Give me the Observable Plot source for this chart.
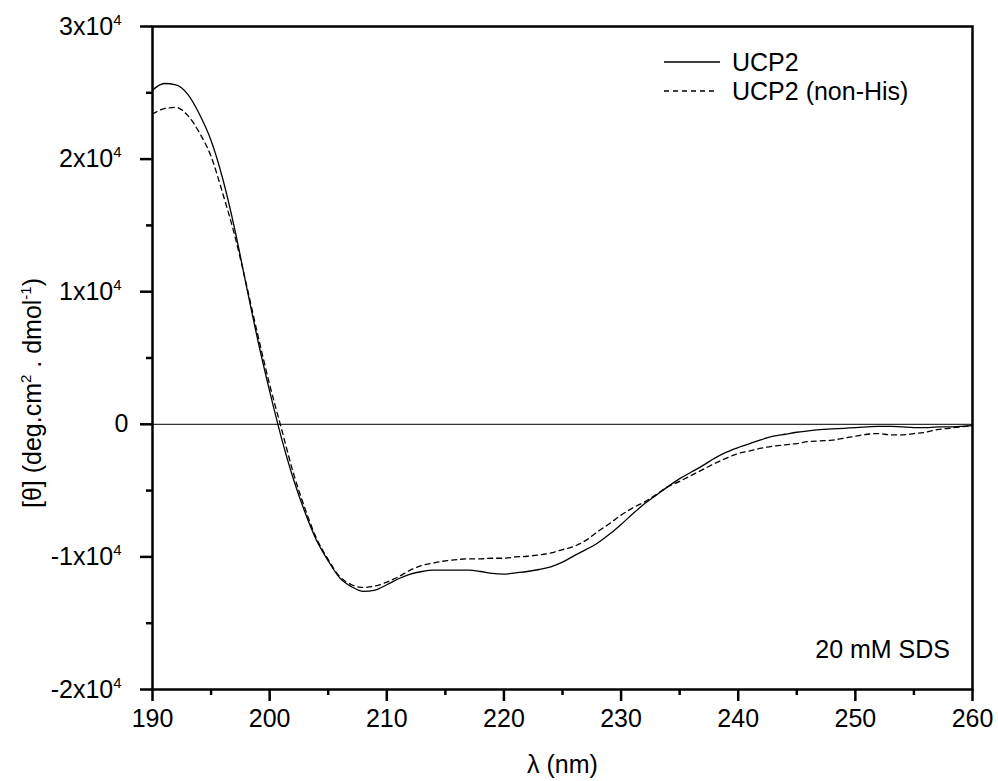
<!DOCTYPE html>
<html><head><meta charset="utf-8">
<script src="https://cdn.jsdelivr.net/npm/d3@7"></script>
<script src="https://cdn.jsdelivr.net/npm/@observablehq/plot@0.6"></script>
<style>
body{margin:0;background:#fff;}
#chart{position:relative;width:998px;height:781px;}
</style>
</head><body><div id="chart"></div>
<script>
const wavelength = [190,191,192,193,194,195,196,197,198,199,200,201,202,203,204,205,206,207,208,209,210,211,212,213,214,215,216,217,218,219,220,221,222,223,224,225,226,227,228,229,230,231,232,233,234,235,236,237,238,239,240,241,242,243,244,245,246,247,248,249,250,251,252,253,254,255,256,257,258,259,260];
const ucp2 = [25200,25700,25600,24900,23400,21400,18500,14800,10500,6300,2500,-1000,-4050,-6600,-8750,-10300,-11600,-12250,-12600,-12500,-12100,-11650,-11300,-11100,-11000,-11000,-11000,-11000,-11100,-11250,-11300,-11200,-11100,-10950,-10750,-10400,-9900,-9450,-8950,-8300,-7550,-6750,-6000,-5350,-4700,-4100,-3600,-3100,-2550,-2100,-1750,-1450,-1150,-900,-750,-600,-500,-400,-350,-300,-250,-200,-150,-150,-200,-250,-250,-200,-200,-150,-100];
const ucp2NonHis = [23400,23800,23900,23300,22000,20200,17400,14300,10600,6700,3000,-300,-3600,-6300,-8600,-10200,-11500,-12100,-12300,-12200,-11900,-11500,-11000,-10650,-10450,-10300,-10200,-10150,-10150,-10100,-10100,-10000,-9950,-9850,-9700,-9450,-9200,-8750,-8100,-7500,-6850,-6300,-5850,-5300,-4700,-4300,-3850,-3400,-2950,-2550,-2200,-2000,-1800,-1650,-1550,-1450,-1300,-1250,-1200,-1050,-900,-750,-700,-800,-800,-700,-600,-400,-300,-200,-100];
const seriesNames = ["UCP2", "UCP2 (non-His)"];
const xMajor = [190,200,210,220,230,240,250,260];
const xMinor = [195,205,215,225,235,245,255];
const yMajor = [-20000,-10000,0,10000,20000,30000];
const yMinor = [-15000,-5000,5000,15000,25000];
const annotation = "20 mM SDS";
const xTitle = "λ (nm)";

const solid = wavelength.map((w,i)=>({w, v: ucp2[i]}));
const dashed = wavelength.map((w,i)=>({w, v: ucp2NonHis[i]}));
const FONT = "'Liberation Sans', Arial, Helvetica, sans-serif";

const plot = Plot.plot({
  width: 998, height: 781,
  marginLeft: 152, marginRight: 26, marginTop: 26, marginBottom: 92,
  style: {fontFamily: FONT, fontSize: "25px", color: "black", background: "white", overflow: "visible"},
  x: {domain: [190, 260]},
  y: {domain: [-20000, 30000]},
  marks: [
    Plot.ruleY([0], {stroke: "#333", strokeWidth: 1.2}),
    Plot.line(solid, {x: "w", y: "v", stroke: "black", strokeWidth: 1.3, curve: "monotone-x"}),
    Plot.line(dashed, {x: "w", y: "v", stroke: "black", strokeWidth: 1.3, strokeDasharray: "5,4", curve: "monotone-x"}),
    Plot.axisX({ticks: xMajor, tickSize: 12, tickPadding: 8, fontSize: 25, label: null, strokeWidth: 2.5, tickFormat: d => String(d)}),
    Plot.axisX({ticks: xMinor, tickSize: 6, text: null, label: null, strokeWidth: 2.5}),
    Plot.axisY({ticks: yMajor, tickSize: 12, tickPadding: 12, fontSize: 25, label: null, strokeWidth: 2.5,
      tickFormat: d => d === 0 ? "0" : (d/10000) + "x10"}),
    Plot.axisY({ticks: yMinor, tickSize: 6, text: null, label: null, strokeWidth: 2.5}),
    Plot.frame({stroke: "black", strokeWidth: 2.5}),
    Plot.text([xTitle], {frameAnchor: "bottom", dy: 83, fontSize: 25, text: d => d})
  ]
});
document.getElementById("chart").appendChild(plot);

const svg = d3.select(plot);
// superscript exponents on y tick labels
svg.selectAll('g[aria-label="y-axis tick label"] text').each(function(){
  const t = d3.select(this);
  const s = this.textContent;
  if (s.endsWith("x10")) {
    t.append("tspan").attr("dy", "-10").attr("font-size", "15").text("4");
    t.append("tspan").attr("dy", "10").text("\u00a0");
  }
});

const sx = plot.scale("x"), sy = plot.scale("y");
const fr = {left: sx.range[0], right: sx.range[1], top: sy.range[1], bottom: sy.range[0]};

// y-axis title
const yt = svg.append("text")
  .attr("transform", `translate(41,393) rotate(-90)`)
  .attr("text-anchor", "middle")
  .attr("font-size", 25).attr("font-family", FONT).attr("fill", "black");
yt.append("tspan").text("[θ] (deg.cm");
yt.append("tspan").attr("dy", "-10").attr("font-size", 15).text("2");
yt.append("tspan").attr("dy", "10").text(" . dmol");
yt.append("tspan").attr("dy", "-10").attr("font-size", 15).text("-1");
yt.append("tspan").attr("dy", "10").text(")");

// legend
const lg = svg.append("g").attr("font-family", FONT).attr("font-size", 25).attr("fill", "black").attr("text-anchor", "start");
const legendX = fr.right - 308, rows = [62, 91];
seriesNames.forEach((name, i) => {
  lg.append("line")
    .attr("x1", legendX).attr("x2", legendX + (i === 0 ? 56 : 52))
    .attr("y1", rows[i]).attr("y2", rows[i])
    .attr("stroke", "black").attr("stroke-width", 1.3)
    .attr("stroke-dasharray", i === 0 ? null : "5,4");
  lg.append("text").attr("x", legendX + 68).attr("y", rows[i] + 8.5).attr("text-anchor", "start").text(name);
});

// annotation
svg.append("text").attr("x", fr.right - 22).attr("y", fr.bottom - 31)
  .attr("text-anchor", "end").attr("font-family", FONT).attr("font-size", 25)
  .attr("fill", "black").text(annotation);
</script>
</body></html>
